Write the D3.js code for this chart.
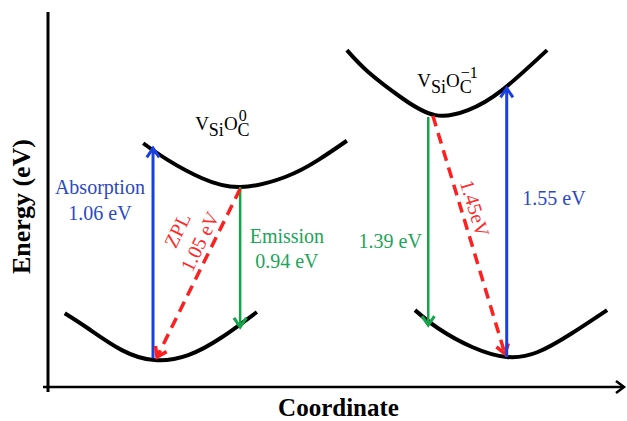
<!DOCTYPE html>
<html>
<head>
<meta charset="utf-8">
<script src="https://cdn.jsdelivr.net/npm/d3@7"></script>
<style>
  body { margin: 0; background: #fff; }
  svg text { font-family: "Liberation Serif", "Times New Roman", serif; }
</style>
</head>
<body>
<svg id="chart" width="627" height="421"></svg>
<script>
// configuration coordinate diagram, arbitrary units
// x: coordinate 0..10, y: energy 0..6
var groundNeutral  = [[0.29,1.18],[0.69,0.94],[1.28,0.59],[1.85,0.43],[2.43,0.51],[3.02,0.80],[3.62,1.20]];
var excitedNeutral = [[1.65,3.90],[2.08,3.63],[2.67,3.34],[3.33,3.20],[4.11,3.36],[4.68,3.63],[5.18,3.94]];
var excitedMinus   = [[5.18,5.39],[5.55,5.04],[6.14,4.62],[6.71,4.35],[7.28,4.43],[7.87,4.75],[8.65,5.39]];
var groundMinus    = [[6.36,1.23],[6.76,0.94],[7.35,0.64],[7.95,0.48],[8.49,0.56],[9.08,0.86],[9.69,1.23]];

var curves = [groundNeutral, excitedNeutral, excitedMinus, groundMinus];

// transitions: from -> to (arrow head at "to")
var transitions = [
  { kind: "absorption", from: [1.82, 0.46], to: [1.82, 3.82] },
  { kind: "emission",   from: [3.33, 3.20], to: [3.33, 0.96] },
  { kind: "zpl",        from: [3.33, 3.17], to: [1.89, 0.48] },
  { kind: "emission",   from: [6.59, 4.32], to: [6.59, 0.99] },
  { kind: "zpl",        from: [6.67, 4.34], to: [7.92, 0.53] },
  { kind: "absorption", from: [7.95, 0.48], to: [7.95, 4.78] }
];

// energy labels
var labels = [
  { kind: "absorption", text: "Absorption", at: [0.90, 3.09], angle: 0 },
  { kind: "absorption", text: "1.06 eV",    at: [0.90, 2.67], angle: 0 },
  { kind: "emission",   text: "Emission",   at: [4.14, 2.30], angle: 0 },
  { kind: "emission",   text: "0.94 eV",    at: [4.14, 1.90], angle: 0 },
  { kind: "zpl",        text: "ZPL",        at: [2.24, 2.51], angle: -64 },
  { kind: "zpl",        text: "1.05 eV",    at: [2.63, 2.33], angle: -64 },
  { kind: "emission",   text: "1.39 eV",    at: [5.93, 2.22], angle: 0 },
  { kind: "zpl",        text: "1.45eV",     at: [7.40, 2.86], angle: 73 },
  { kind: "absorption", text: "1.55 eV",    at: [8.77, 2.91], angle: 0 }
];

// defect states: V_Si O_C^q
var states = [
  { charge: "0",  at: [2.55, 4.11] },
  { charge: "\u22121", at: [6.40, 4.80] }
];

var colors = { absorption: "#1a3fe0", emission: "#16a34a", zpl: "#ff1f1f" };
var textColors = { absorption: "#2a48c8", emission: "#20a458", zpl: "#ff2a2a" };

var svg = d3.select("#chart");

var x = d3.scaleLinear().domain([0, 10]).range([48, 625]);
var y = d3.scaleLinear().domain([0, 6]).range([387, 12]);

// axes (no ticks)
svg.append("line")
    .attr("x1", x(0)).attr("x2", x(0))
    .attr("y1", y(6)).attr("y2", y(0) + 5)
    .attr("stroke", "#000").attr("stroke-width", 3);

svg.append("line")
    .attr("x1", x(0) - 5).attr("x2", x(10) - 1)
    .attr("y1", y(0)).attr("y2", y(0))
    .attr("stroke", "#000").attr("stroke-width", 2.5);

svg.append("path")
    .attr("d", "M" + (x(10) - 9) + "," + (y(0) - 6) + "L" + (x(10) - 1) + "," + y(0) + "L" + (x(10) - 9) + "," + (y(0) + 6))
    .attr("fill", "none").attr("stroke", "#000").attr("stroke-width", 2.5);

// axis titles
svg.append("text")
    .attr("transform", "translate(30," + ((y(0) + y(6)) / 2 + 7) + ") rotate(-90)")
    .attr("text-anchor", "middle")
    .attr("font-size", 26).attr("font-weight", "bold")
    .text("Energy (eV)");

svg.append("text")
    .attr("x", (x(0) + x(10)) / 2 + 2)
    .attr("y", 416)
    .attr("text-anchor", "middle")
    .attr("font-size", 25).attr("font-weight", "bold")
    .text("Coordinate");

// potential energy curves
var line = d3.line()
    .x(function (d) { return x(d[0]); })
    .y(function (d) { return y(d[1]); })
    .curve(d3.curveNatural);

svg.append("g").selectAll("path")
    .data(curves)
    .enter().append("path")
    .attr("d", line)
    .attr("fill", "none")
    .attr("stroke", "#000")
    .attr("stroke-width", 4)
    .attr("stroke-linecap", "butt");

// transitions
var arrows = svg.append("g").selectAll("g")
    .data(transitions)
    .enter().append("g");

arrows.append("line")
    .attr("x1", function (d) { return x(d.from[0]); })
    .attr("y1", function (d) { return y(d.from[1]); })
    .attr("x2", function (d) { return x(d.to[0]); })
    .attr("y2", function (d) { return y(d.to[1]); })
    .attr("stroke", function (d) { return colors[d.kind]; })
    .attr("stroke-width", function (d) { return d.kind == "zpl" ? 3.5 : (d.kind == "emission" ? 2.5 : 3); })
    .attr("stroke-dasharray", function (d) { return d.kind == "zpl" ? "11,7" : null; });

// chevron heads
arrows.append("path")
    .attr("d", function (d) {
        var x1 = x(d.from[0]), y1 = y(d.from[1]);
        var x2 = x(d.to[0]), y2 = y(d.to[1]);
        var a = Math.atan2(y2 - y1, x2 - x1);
        var len = 11, spread = 0.6;
        var p1 = [x2 - len * Math.cos(a - spread), y2 - len * Math.sin(a - spread)];
        var p2 = [x2 - len * Math.cos(a + spread), y2 - len * Math.sin(a + spread)];
        return "M" + p1 + "L" + x2 + "," + y2 + "L" + p2;
    })
    .attr("fill", "none")
    .attr("stroke", function (d) { return colors[d.kind]; })
    .attr("stroke-width", function (d) { return d.kind == "zpl" ? 3.5 : 3; })
    .attr("stroke-linejoin", "miter");

// energy labels
svg.append("g").selectAll("text")
    .data(labels)
    .enter().append("text")
    .attr("transform", function (d) {
        return "translate(" + x(d.at[0]) + "," + y(d.at[1]) + ")" + (d.angle ? " rotate(" + d.angle + ")" : "");
    })
    .attr("dy", function (d) { return d.angle ? "0.35em" : 0; })
    .attr("text-anchor", "middle")
    .attr("font-size", 20)
    .attr("fill", function (d) { return textColors[d.kind]; })
    .text(function (d) { return d.text; });

// state labels
var st = svg.append("g").selectAll("text")
    .data(states)
    .enter().append("text")
    .attr("x", function (d) { return x(d.at[0]); })
    .attr("y", function (d) { return y(d.at[1]); })
    .attr("font-size", 19)
    .attr("fill", "#000");

st.append("tspan").text("V");
st.append("tspan").attr("dy", 6).attr("font-size", 18).text("Si");
st.append("tspan").attr("dy", -6).text("O");
st.append("tspan").attr("dy", 6).attr("font-size", 18).text("C");
st.append("tspan")
    .attr("dx", -11).attr("dy", -15)
    .attr("font-size", 16)
    .text(function (d) { return d.charge; });
</script>
</body>
</html>
